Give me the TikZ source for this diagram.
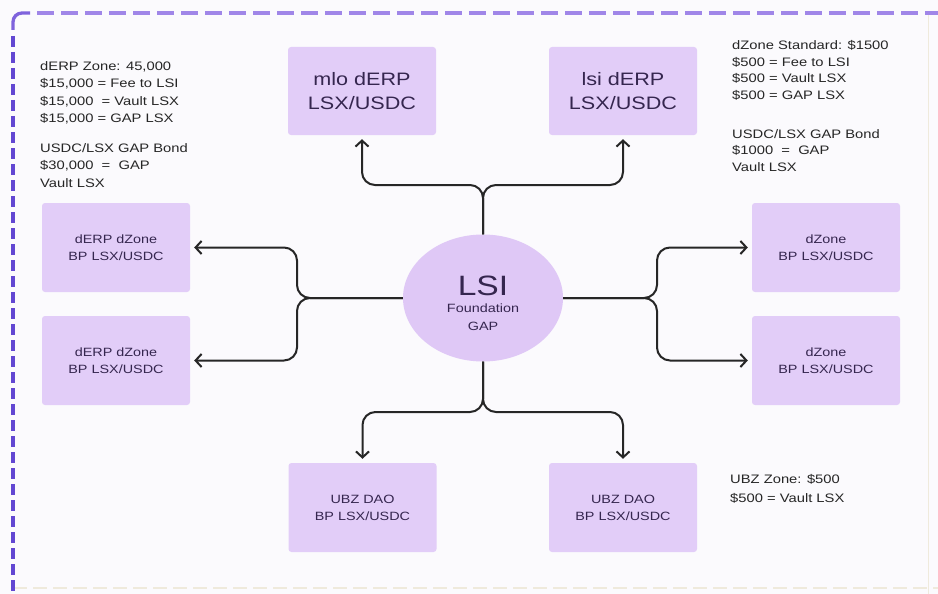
\documentclass[tikz,border=0pt]{standalone}
\usepackage{fontspec}
\setmainfont[FakeStretch=1.2]{Liberation Sans}
\usetikzlibrary{arrows.meta,shapes.geometric}
\definecolor{bg}{HTML}{FBFAFD}
\definecolor{boxfill}{HTML}{E2CDF8}
\definecolor{ellfill}{HTML}{DFC8F6}
\definecolor{boxtext}{HTML}{35264F}
\definecolor{notetext}{HTML}{262626}
\definecolor{linec}{HTML}{262626}
\definecolor{dashtop}{HTML}{A086E8}
\definecolor{dashleft}{HTML}{6247D2}
\definecolor{dashmid}{HTML}{7F63DC}
\definecolor{faintc}{HTML}{EFEADC}
\begin{document}
\begin{tikzpicture}[x=1pt,y=-1pt,
  box/.style={fill=boxfill, rounded corners=3pt, minimum width=148pt, minimum height=88pt, inner sep=0pt, align=center, text=boxtext},
  bigtxt/.style={font=\fontsize{18}{23.5}\selectfont},
  smalltxt/.style={font=\fontsize{12}{17}\selectfont},
  note/.style={anchor=north west, inner sep=0pt, align=left, text=notetext, font=\fontsize{12.3}{17.3}\selectfont},
  conn/.style={draw=linec, line width=2pt, rounded corners=13pt, -{Straight Barb[length=6pt,width=13pt]}},
  plain/.style={text=boxtext, inner sep=0pt},
]
\fill[bg] (0,0) rectangle (938,594);
\useasboundingbox (0,0) rectangle (938,594);

% frame
\draw[faintc, line width=1.5pt, dash pattern=on 14pt off 6pt] (13,588) -- (938,588);
\draw[faintc, line width=1pt] (928,13) -- (928,594);
\draw[dashmid, line width=3.3pt, rounded corners=9pt] (13,30) -- (13,13) -- (30,13);
\draw[dashtop, line width=3.3pt, dash pattern=on 17pt off 7pt] (37,13) -- (945,13);
\draw[dashleft, line width=3.3pt, dash pattern=on 11pt off 5pt] (13,36) -- (13,600);

% boxes
\node[box,bigtxt] (mlo) at (362,91) {mlo dERP\\LSX/USDC};
\node[box,bigtxt] (lsi) at (623,91) {lsi dERP\\LSX/USDC};
\node[box,smalltxt,minimum height=89pt] (dl1) at (116,247.5) {dERP dZone\\BP LSX/USDC};
\node[box,smalltxt,minimum height=89pt] (dl2) at (116,360.5) {dERP dZone\\BP LSX/USDC};
\node[box,smalltxt,minimum height=89pt] (dr1) at (826,247.5) {dZone\\BP LSX/USDC};
\node[box,smalltxt,minimum height=89pt] (dr2) at (826,360.5) {dZone\\BP LSX/USDC};
\node[box,smalltxt,minimum height=89pt] (ub1) at (362.5,507.5) {UBZ DAO\\BP LSX/USDC};
\node[box,smalltxt,minimum height=89pt] (ub2) at (623,507.5) {UBZ DAO\\BP LSX/USDC};

% center
\node[ellipse, fill=ellfill, minimum width=160pt, minimum height=127pt, inner sep=0pt] (core) at (483,298) {};
\node[plain, font=\fontsize{28}{28}\selectfont] (lsit) at (483,286) {LSI};
\node[plain, font=\fontsize{12}{14}\selectfont] (fnd) at (483,308) {Foundation};
\node[plain, font=\fontsize{12}{14}\selectfont] (gapt) at (483,326) {GAP};

% connectors
\draw[conn] (core.north) -- (483,185) -- (362,185) -- ([yshift=-4pt]mlo.south);
\draw[conn] (core.north) -- (483,185) -- (623,185) -- ([yshift=-4pt]lsi.south);
\draw[conn] (core.west) -- (297,298) -- (297,247.5) -- ([xshift=4pt]dl1.east);
\draw[conn] (core.west) -- (297,298) -- (297,360.5) -- ([xshift=4pt]dl2.east);
\draw[conn] (core.east) -- (657,298) -- (657,247.5) -- ([xshift=-4pt]dr1.west);
\draw[conn] (core.east) -- (657,298) -- (657,360.5) -- ([xshift=-4pt]dr2.west);
\draw[conn] (core.south) -- (483,412) -- (362.5,412) -- ([yshift=4pt]ub1.north);
\draw[conn] (core.south) -- (483,412) -- (623,412) -- ([yshift=4pt]ub2.north);

% notes
\node[note] (n1) at (40,61.5) {dERP Zone: 45,000\\\$15,000 = Fee to LSI\\\$15,000 \ = Vault LSX\\\$15,000 = GAP LSX\\[12.7pt]USDC/LSX GAP Bond\\\$30,000 \ = \ GAP\\Vault LSX};
\node[note, font=\fontsize{12.3}{16.7}\selectfont] (n2) at (732,40) {dZone Standard: \$1500\\\$500 = Fee to LSI\\\$500 = Vault LSX\\\$500 = GAP LSX\\[22pt]USDC/LSX GAP Bond\\\$1000 \ = \ GAP\\Vault LSX};
\node[note] (n3) at (730,474) {UBZ Zone: \$500\\[1.7pt]\$500 = Vault LSX};
\end{tikzpicture}
\end{document}
